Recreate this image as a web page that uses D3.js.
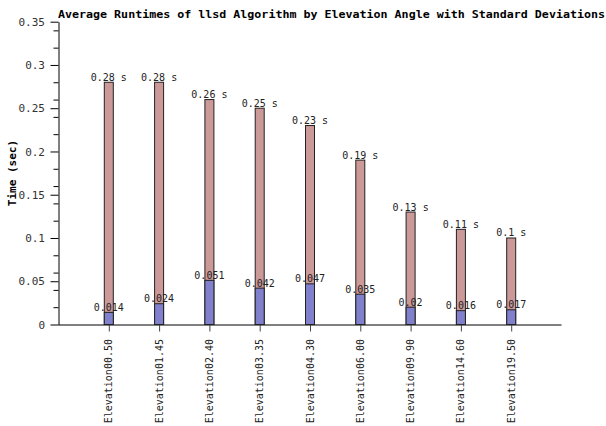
<!DOCTYPE html>
<html>
<head>
<meta charset="utf-8">
<script src="https://cdn.jsdelivr.net/npm/d3@7"></script>
<style>
  html, body { margin: 0; padding: 0; background: #fff; }
  svg { display: block; }
</style>
</head>
<body>
<svg id="chart" width="606" height="426"></svg>
<script>
const categories = ["Elevation00.50","Elevation01.45","Elevation02.40","Elevation03.35","Elevation04.30","Elevation06.00","Elevation09.90","Elevation14.60","Elevation19.50"];
const avgRuntime = [0.28, 0.28, 0.26, 0.25, 0.23, 0.19, 0.13, 0.11, 0.1];
const stdDev = [0.014, 0.024, 0.051, 0.042, 0.047, 0.035, 0.02, 0.016, 0.017];
const majorTicks = [0, 0.05, 0.1, 0.15, 0.2, 0.25, 0.3, 0.35];
const minorTicks = [0.02, 0.04, 0.06, 0.08, 0.12, 0.14, 0.16, 0.18, 0.22, 0.24, 0.26, 0.28, 0.32, 0.34];
const titleText = "Average Runtimes of llsd Algorithm by Elevation Angle with Standard Deviations";
const yLabel = "Time (sec)";

(function () {
const svg = d3.select("#chart");
const mLeft = 58.5, mRight = 561.5, mTop = 21.7, mBottom = 324.5;
const mono = "'DejaVu Sans Mono', monospace";

const x = d3.scalePoint().domain(categories).range([mLeft, mRight]).padding(1);
const y = d3.scaleLinear().domain([0, 0.35]).range([mBottom, mTop]);

// title
svg.append("text")
  .attr("x", 58).attr("y", 18)
  .attr("font-family", mono).attr("font-weight", "bold").attr("font-size", 11.3)
  .attr("fill", "#000")
  .attr("textLength", 547).attr("lengthAdjust", "spacingAndGlyphs")
  .text(titleText);

// y label
svg.append("text")
  .attr("transform", `translate(16,${(mTop + mBottom) / 2}) rotate(-90)`)
  .attr("text-anchor", "middle")
  .attr("font-family", mono).attr("font-weight", "bold").attr("font-size", 11)
  .attr("fill", "#000")
  .text(yLabel);

// y axis minor ticks
const yMinor = svg.append("g").attr("transform", `translate(${mLeft},0)`)
  .call(d3.axisLeft(y).tickValues(minorTicks).tickSize(5).tickFormat(""));
yMinor.select(".domain").remove();
yMinor.selectAll("line").attr("stroke", "#000");

// y axis major
const yAxis = svg.append("g").attr("transform", `translate(${mLeft},0)`)
  .call(d3.axisLeft(y).tickValues(majorTicks).tickSize(8).tickSizeOuter(0).tickPadding(5.5).tickFormat(d => String(d)));
yAxis.select(".domain").attr("stroke", "#000");
yAxis.selectAll("line").attr("stroke", "#000");
yAxis.selectAll("text").attr("font-family", mono).attr("font-size", 11).attr("fill", "#333");

// x axis
const xAxis = svg.append("g").attr("transform", `translate(0,${mBottom})`)
  .call(d3.axisBottom(x).tickSize(7).tickSizeOuter(0).tickFormat(""));
xAxis.select(".domain").attr("stroke", "#000").attr("d", `M${mLeft},0.5H${mRight}`);
xAxis.selectAll("line").attr("stroke", "#444");

// x labels
svg.append("g").selectAll("text").data(categories).enter().append("text")
  .attr("transform", d => `translate(${x(d)},339) rotate(-90)`)
  .attr("text-anchor", "end")
  .attr("dy", "0.35em")
  .attr("font-family", mono).attr("font-size", 10).attr("fill", "#222")
  .text(d => d);

const bw = 9;
// average bars
svg.append("g").selectAll("rect").data(avgRuntime).enter().append("rect")
  .attr("x", (d, i) => x(categories[i]) - bw / 2)
  .attr("y", d => y(d))
  .attr("width", bw)
  .attr("height", d => y(0) - y(d))
  .attr("fill", "#cc9999").attr("stroke", "#222").attr("stroke-width", 1);

// std dev bars
svg.append("g").selectAll("rect").data(stdDev).enter().append("rect")
  .attr("x", (d, i) => x(categories[i]) - bw / 2)
  .attr("y", d => y(d))
  .attr("width", bw)
  .attr("height", d => y(0) - y(d))
  .attr("fill", "#8080cc").attr("stroke", "#222").attr("stroke-width", 1);

// labels
svg.append("g").selectAll("text").data(avgRuntime).enter().append("text")
  .attr("x", (d, i) => x(categories[i]))
  .attr("y", d => y(d) - 1.5)
  .attr("text-anchor", "middle")
  .attr("font-family", mono).attr("font-size", 10).attr("fill", "#222")
  .text(d => d + " s");

svg.append("g").selectAll("text").data(stdDev).enter().append("text")
  .attr("x", (d, i) => x(categories[i]))
  .attr("y", d => y(d) - 1.5)
  .attr("text-anchor", "middle")
  .attr("font-family", mono).attr("font-size", 10).attr("fill", "#222")
  .text(d => String(d));
})();
</script>
</body>
</html>
